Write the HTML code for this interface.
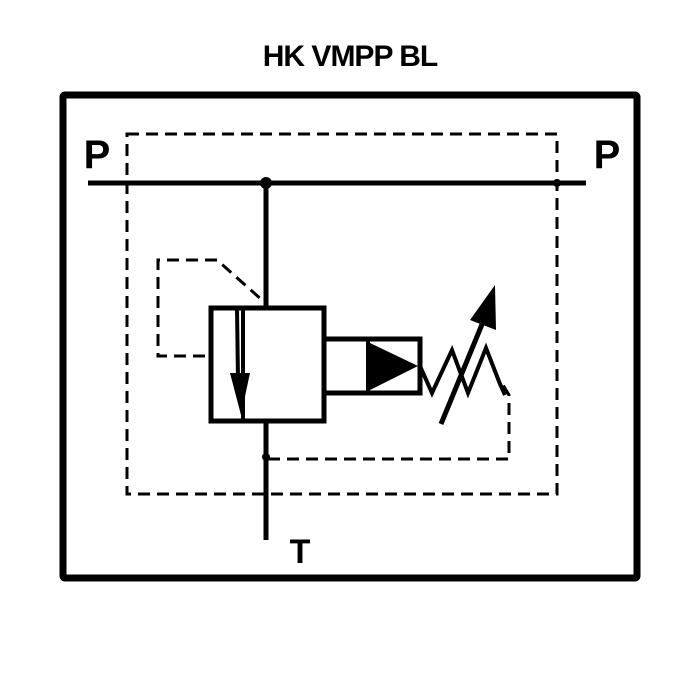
<!DOCTYPE html>
<html><head><style>body{margin:0;background:#fff}svg{display:block}</style></head><body>
<svg width="700" height="700" viewBox="0 0 700 700" xmlns="http://www.w3.org/2000/svg">
<text x="350" y="66" text-anchor="middle" font-family="Liberation Sans, sans-serif" font-weight="bold" font-size="30" letter-spacing="-1">HK VMPP BL</text>
<rect x="63" y="95" width="574" height="483" fill="none" stroke="#000" stroke-width="7" rx="2"/>
<text x="97" y="168" text-anchor="middle" font-family="Liberation Sans, sans-serif" font-weight="bold" font-size="40">P</text>
<text x="607" y="168" text-anchor="middle" font-family="Liberation Sans, sans-serif" font-weight="bold" font-size="40">P</text>
<text x="300" y="563" text-anchor="middle" font-family="Liberation Sans, sans-serif" font-weight="bold" font-size="34">T</text>
<g fill="none" stroke="#000" stroke-width="3" stroke-dasharray="12,7">
<rect x="127" y="134" width="430" height="360"/>
<polyline points="205,356 158,356 158,260 217,260 262,300"/>
<polyline points="268,459 509,459 509,395 503,385"/>
</g>
<g stroke="#000" stroke-width="5" fill="none">
<line x1="88" y1="183" x2="586" y2="183"/>
<line x1="266" y1="183" x2="266" y2="308"/>
<line x1="266" y1="421" x2="266" y2="540"/>
<rect x="211" y="308" width="113" height="113" stroke-width="5"/>
<line x1="243" y1="308" x2="243" y2="421" stroke-width="4"/>
<line x1="237" y1="308" x2="238" y2="380" stroke-width="4"/>
<rect x="324" y="339" width="96" height="54" stroke-width="5"/>
<line x1="368" y1="339" x2="368" y2="393" stroke-width="4"/>
<polyline points="420,366 432,393 452,350 468,393 486,348 500,384 505,395" stroke-width="4"/>
<line x1="441" y1="424" x2="483" y2="322" stroke-width="5"/>
</g>
<polygon points="230,373 250,373 241,415" fill="#000"/>
<polygon points="370,343 418,366 370,390" fill="#000"/>
<polygon points="495,285 496,330 470,320" fill="#000"/>
<circle cx="266" cy="183" r="6" fill="#000"/>
<circle cx="557" cy="183" r="4" fill="#000"/>
<circle cx="266" cy="457" r="4" fill="#000"/>
</svg>
</body></html>
